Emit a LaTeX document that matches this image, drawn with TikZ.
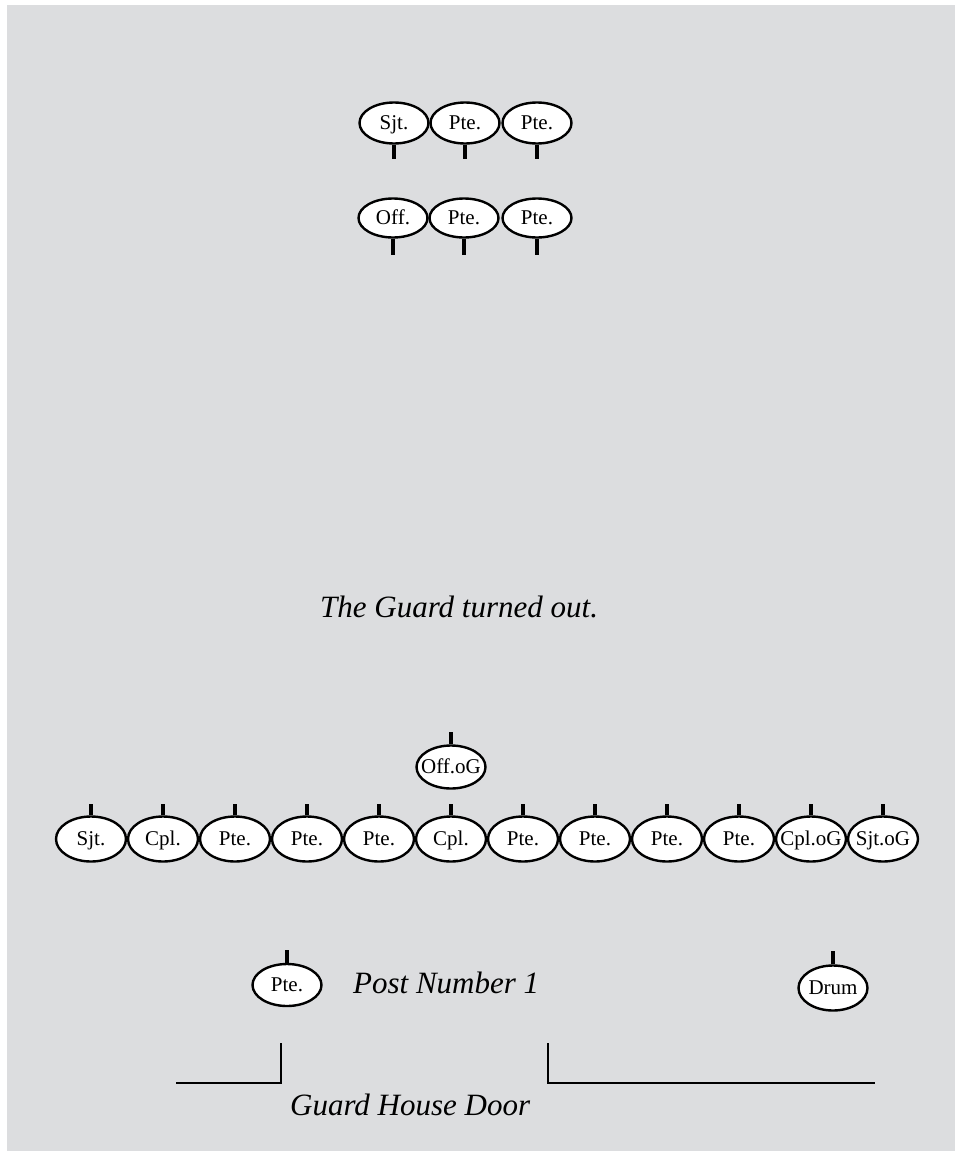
\documentclass[tikz,border=0pt]{standalone}
\usepackage{fontspec}
\setmainfont{Liberation Serif}
\usetikzlibrary{positioning,shapes.geometric}
\definecolor{parade}{HTML}{DCDDDF}

\begin{document}
\begin{tikzpicture}[x=1pt,y=-1pt,
    man/.style={ellipse,draw,fill=white,line width=2.4pt,minimum width=69pt,
      minimum height=44pt,inner sep=0pt,text height=14pt,text depth=1pt,
      font=\fontsize{21}{24}\selectfont},
    stem/.style={line width=4pt},
    wall/.style={line width=2pt},
    note/.style={anchor=base west,inner sep=0pt,font=\fontsize{31}{36}\selectfont\itshape}]
    \useasboundingbox (0,0) rectangle (955,1151);
    \fill[parade] (7,5) rectangle (955,1151);
    % old guard
    \foreach \r/\x [count=\i] in {Sjt./394,Pte./465,Pte./537}{
        \node[man,minimum height=41pt] (a\i) at (\x,123) {\makebox[0pt]{\r}};
        \draw[stem] (a\i.south) -- ++(0,14);
    }
    \foreach \r/\x [count=\i] in {Off./393,Pte./464,Pte./537}{
        \node[man,minimum height=39pt] (b\i) at (\x,218) {\makebox[0pt]{\r}};
        \draw[stem] (b\i.south) -- ++(0,16);
    }
    \node[note] (turned) at (320,617) {The Guard turned out.};
    % new guard
    \node[man,minimum height=43pt] (og) at (451,767) {\makebox[0pt]{Off.oG}};
    \draw[stem] (og.north) -- ++(0,-12);
    \foreach \r [count=\i from 0] in {Sjt.,Cpl.,Pte.,Pte.,Pte.,Cpl.,Pte.,Pte.,Pte.,Pte.,Cpl.oG,Sjt.oG}{
        \node[man,minimum width=70pt,minimum height=45pt] (c\i) at (91+72*\i,839) {\makebox[0pt]{\r}};
        \draw[stem] (c\i.north) -- ++(0,-11);
    }
    \node[man,minimum height=42pt] (post) at (287,985) {\makebox[0pt]{Pte.}};
    \draw[stem] (post.north) -- ++(0,-13);
    \node[note] (postlbl) at (353,993) {Post Number 1};
    \node[man,minimum height=45pt] (drum) at (833,988) {\makebox[0pt]{Drum}};
    \draw[stem] (drum.north) -- ++(0,-13);
    % guard house
    \draw[wall] (176,1083) -| (281,1043);
    \draw[wall] (548,1043) |- (875,1083);
    \node[note] (door) at (290,1115) {Guard House Door};
\end{tikzpicture}
\end{document}
